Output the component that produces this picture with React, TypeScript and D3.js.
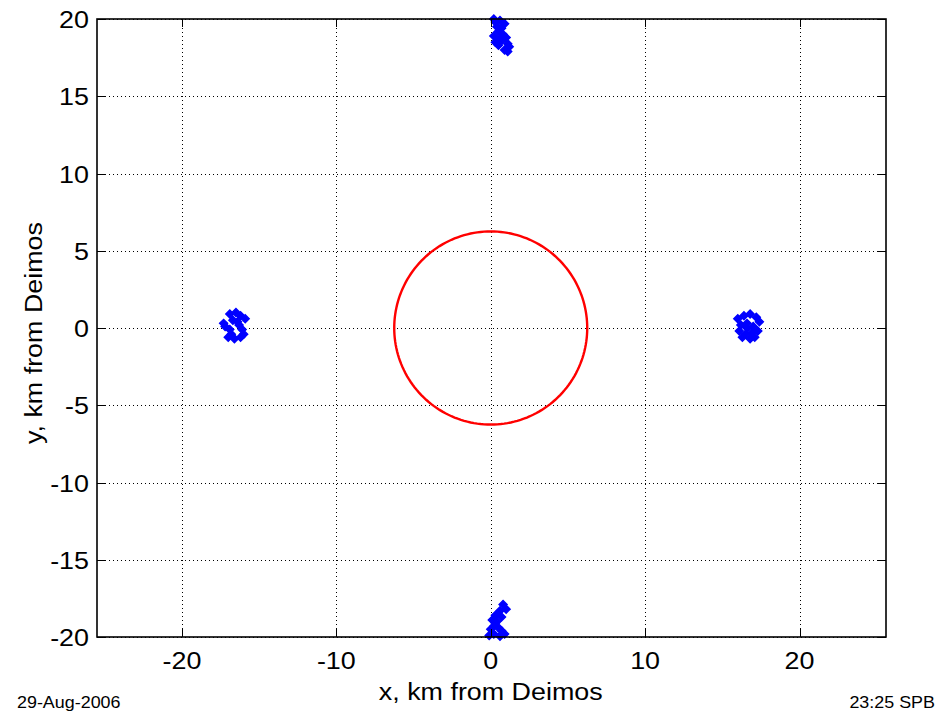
import * as d3 from "d3";
import React, { useRef, useEffect } from "react";

const width = 942;
const height = 713;
const margin = { top: 19, right: 56, bottom: 76, left: 97 };

// tick values
const xTicks = [-20, -10, 0, 10, 20];
const yTicks = [-20, -15, -10, -5, 0, 5, 10, 15, 20];

// Deimos reference circle radius, km
const circleRadius = 6.25;

// point clusters (x, y in km)
const topX = [0.2, 0.6, 0.9, 0.4, 0.5, 0.8, 1.0, 0.7, 1.1, 0.3, 0.2, 0.5, 1.2, 0.9, 1.1, 0.3, 0.7, 0.6];
const topY = [20.0, 19.9, 19.7, 19.5, 19.2, 19.0, 18.8, 18.6, 18.4, 18.5, 18.9, 18.3, 18.2, 18.0, 17.9, 19.8, 19.4, 18.7];

const bottomX = [0.8, 1.0, 0.6, 0.3, 0.7, 0.1, 0.4, 0.2, 0.0, 0.5, 0.7, 0.9, 0.2, -0.1, 0.6, 0.3];
const bottomY = [-17.9, -18.2, -18.3, -18.6, -18.7, -18.9, -19.0, -19.3, -19.5, -19.4, -19.6, -19.8, -19.8, -19.9, -19.95, -19.1];

const leftX = [-16.9, -16.5, -16.2, -15.9, -16.7, -17.2, -16.9, -16.3, -16.1, -17.0, -16.6, -16.2, -16.0, -16.8, -17.3, -16.4];
const leftY = [0.9, 1.0, 0.8, 0.6, 0.5, 0.1, -0.1, 0.2, -0.1, -0.6, -0.7, -0.6, -0.4, -0.4, 0.3, 0.4];

const rightX = [16.0, 16.4, 16.8, 17.2, 17.4, 16.2, 16.6, 17.0, 16.1, 16.5, 16.9, 17.3, 16.3, 16.8, 17.1, 16.6];
const rightY = [0.6, 0.8, 0.9, 0.7, 0.4, 0.2, 0.3, 0.1, -0.2, -0.4, -0.3, -0.2, -0.6, -0.7, -0.6, 0.0];

function App() {
  const ref = useRef(null);

  useEffect(() => {
    const svg = d3.select(ref.current);
    svg.selectAll("*").remove();

    const x = d3
      .scaleLinear()
      .domain([-25.5, 25.6])
      .range([margin.left, width - margin.right]);
    const y = d3
      .scaleLinear()
      .domain([-20, 20])
      .range([height - margin.bottom, margin.top]);

    const x0 = margin.left;
    const x1 = width - margin.right;
    const y0 = height - margin.bottom;
    const y1 = margin.top;

    svg.append("rect").attr("width", width).attr("height", height).attr("fill", "white");

    // grid
    const grid = svg.append("g").attr("stroke", "#000").attr("stroke-width", 1).attr("stroke-dasharray", "1,3");
    grid
      .selectAll(".vgrid")
      .data(xTicks)
      .join("line")
      .attr("x1", (d) => Math.round(x(d)) + 0.5)
      .attr("x2", (d) => Math.round(x(d)) + 0.5)
      .attr("y1", y0)
      .attr("y2", y1);
    grid
      .selectAll(".hgrid")
      .data(yTicks)
      .join("line")
      .attr("y1", (d) => Math.round(y(d)) + 0.5)
      .attr("y2", (d) => Math.round(y(d)) + 0.5)
      .attr("x1", x0)
      .attr("x2", x1);

    // circle
    const circle = d3.range(0, 361, 2).map((a) => [
      circleRadius * Math.cos((a * Math.PI) / 180),
      circleRadius * Math.sin((a * Math.PI) / 180),
    ]);
    svg
      .append("path")
      .datum(circle)
      .attr("fill", "none")
      .attr("stroke", "#ff0000")
      .attr("stroke-width", 2.4)
      .attr(
        "d",
        d3
          .line()
          .x((d: any) => x(d[0]))
          .y((d: any) => y(d[1]))
      );

    // points
    const pts: [number, number][] = [];
    [
      [topX, topY],
      [bottomX, bottomY],
      [leftX, leftY],
      [rightX, rightY],
    ].forEach(([xs, ys]) => xs.forEach((v, i) => pts.push([v, ys[i]])));

    svg
      .append("g")
      .selectAll("path")
      .data(pts)
      .join("path")
      .attr("transform", (d) => `translate(${x(d[0])},${y(d[1])}) rotate(45)`)
      .attr("d", d3.symbol().type(d3.symbolSquare).size(32)())
      .attr("fill", "#0000ff")
      .attr("stroke", "#0000ff")
      .attr("stroke-width", 1.4);

    // box
    svg
      .append("rect")
      .attr("x", x0)
      .attr("y", y1)
      .attr("width", x1 - x0)
      .attr("height", y0 - y1)
      .attr("fill", "none")
      .attr("stroke", "#000")
      .attr("stroke-width", 1.6);

    // tick marks inward on all sides
    const tl = 8;
    const ticks = svg.append("g").attr("stroke", "#000").attr("stroke-width", 1);
    xTicks.forEach((t) => {
      const px = Math.round(x(t)) + 0.5;
      ticks.append("line").attr("x1", px).attr("x2", px).attr("y1", y0).attr("y2", y0 - tl);
      ticks.append("line").attr("x1", px).attr("x2", px).attr("y1", y1).attr("y2", y1 + tl);
    });
    yTicks.forEach((t) => {
      const py = Math.round(y(t)) + 0.5;
      ticks.append("line").attr("y1", py).attr("y2", py).attr("x1", x0).attr("x2", x0 + tl);
      ticks.append("line").attr("y1", py).attr("y2", py).attr("x1", x1).attr("x2", x1 - tl);
    });

    const font = "Arial, 'Liberation Sans', sans-serif";
    const sx = 1.12; // labels are a bit wider than plain Arial

    // tick labels
    svg
      .append("g")
      .selectAll("text")
      .data(xTicks)
      .join("text")
      .attr("transform", (d) => `translate(${x(d)},${y0 + 32}) scale(${sx},1)`)
      .attr("text-anchor", "middle")
      .attr("font-family", font)
      .attr("font-size", 24)
      .text((d) => d);
    svg
      .append("g")
      .selectAll("text")
      .data(yTicks)
      .join("text")
      .attr("transform", (d) => `translate(${x0 - 8},${y(d) + 9}) scale(${sx},1)`)
      .attr("text-anchor", "end")
      .attr("font-family", font)
      .attr("font-size", 24)
      .text((d) => d);

    // axis labels
    svg
      .append("text")
      .attr("transform", `translate(${x(0)},700) scale(${sx},1)`)
      .attr("text-anchor", "middle")
      .attr("font-family", font)
      .attr("font-size", 24)
      .text("x, km from Deimos");
    svg
      .append("text")
      .attr("transform", `translate(42,333) rotate(-90) scale(${sx},1)`)
      .attr("text-anchor", "middle")
      .attr("font-family", font)
      .attr("font-size", 24)
      .text("y, km from Deimos");

    // footer
    svg
      .append("text")
      .attr("transform", `translate(17,708) scale(${sx},1)`)
      .attr("font-family", font)
      .attr("font-size", 16)
      .text("29-Aug-2006");
    svg
      .append("text")
      .attr("transform", `translate(935,708) scale(${sx},1)`)
      .attr("text-anchor", "end")
      .attr("font-family", font)
      .attr("font-size", 16)
      .text("23:25 SPB");
  }, []);

  return (
    <svg
      ref={ref}
      width={width}
      height={height}
      style={{ position: "absolute", left: 0, top: 0 }}
    ></svg>
  );
}

export default App;
